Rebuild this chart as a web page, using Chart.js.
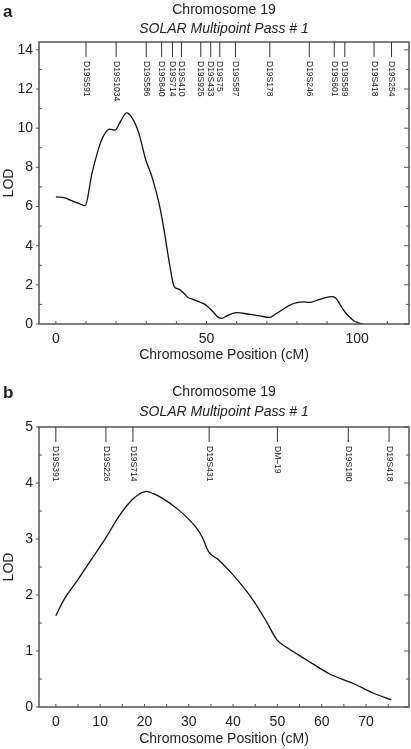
<!DOCTYPE html>
<html>
<head>
<meta charset="utf-8">
<script src="https://cdn.jsdelivr.net/npm/chart.js@4.4.0/dist/chart.umd.min.js"></script>
<style>
  body { margin: 0; background: #fff; }
  .box { position: relative; width: 411px; }
  #boxA { height: 375px; }
  #boxB { height: 374px; }
</style>
</head>
<body>
<div class="box" id="boxA"><canvas id="chartA"></canvas></div>
<div class="box" id="boxB"><canvas id="chartB"></canvas></div>
<script>
// panel a - whole chromosome
const posA = [0, 3, 5, 7.5, 9.7, 12, 14.8, 16.5, 17.8, 19.6, 21.5, 23.5, 25.3, 27.5, 29.8, 32, 34.2,
  35.8, 37.8, 39.2, 40.8, 42.3, 43.9, 45.6, 47.8, 49.5, 51, 52.3, 53.8, 55, 57, 60, 64.4, 67.7,
  71, 73, 75.4, 77.5, 79.9, 82, 84.3, 86.5, 88.7, 91.8, 93, 94.5, 96, 97.5, 99, 100.9, 102];
const lodA = [6.49, 6.44, 6.31, 6.17, 6.04, 7.7, 9.25, 9.78, 9.95, 9.9, 10.36, 10.78, 10.53, 9.76, 8.4, 7.46, 6.18,
  4.9, 3.0, 1.93, 1.78, 1.6, 1.35, 1.25, 1.12, 1.0, 0.8, 0.6, 0.35, 0.29, 0.44, 0.58, 0.49, 0.41,
  0.34, 0.52, 0.75, 0.95, 1.09, 1.13, 1.1, 1.2, 1.31, 1.4, 1.3, 0.95, 0.6, 0.35, 0.15, 0.03, 0];
const markerNamesA = ['D19S591', 'D19S1034', 'D19S586', 'D19S840', 'D19S714', 'D19S410', 'D19S925', 'D19S433',
  'D19S75', 'D19S587', 'D19S178', 'D19S246', 'D19S601', 'D19S589', 'D19S418', 'D19S254'];
const markerPosA = [10, 20, 30, 35.1, 38.7, 41.7, 48.1, 51.4, 54.4, 59.6, 71, 84.1, 92.4, 95.9, 105.6, 111.4];
const xTicksA = [0, 50, 100];
const yTicksA = [0, 2, 4, 6, 8, 10, 12, 14];

// panel b - fine map
const posB = [0, 2, 4.5, 6.7, 9, 11.2, 14.2, 17.2, 18.8, 20.5, 22, 24, 27.7, 31.5, 33, 34.5, 36.7, 40, 44.5,
  47.5, 49.9, 52, 56.6, 61.8, 67.1, 71.6, 75.7];
const lodB = [1.63, 1.94, 2.22, 2.48, 2.75, 3.01, 3.4, 3.7, 3.8, 3.85, 3.81, 3.73, 3.52, 3.22, 3.04, 2.77, 2.63, 2.36, 1.91,
  1.53, 1.2, 1.07, 0.84, 0.59, 0.42, 0.25, 0.13];
const markerNamesB = ['D19S391', 'D19S226', 'D19S714', 'D19S431', 'DM\u201319', 'D19S180', 'D19S418'];
const markerPosB = [0, 11.3, 17.4, 34.6, 50, 66, 75.2];
const xTicksB = [0, 10, 20, 30, 40, 50, 60, 70];
const yTicksB = [0, 1, 2, 3, 4, 5];

Chart.defaults.font.family = '"Liberation Sans", Arial, sans-serif';
Chart.defaults.color = '#222';

const frameColor = '#555';

// box, small ticks, marker ladder and panel letter
const plotDecor = {
    id: 'plotDecor',
    afterDatasetsDraw(chart, args, opts) {
        const { ctx, chartArea: a, scales: { x, y } } = chart;
        const seg = (x1, y1, x2, y2) => {
            ctx.beginPath();
            ctx.moveTo(x1, y1);
            ctx.lineTo(x2, y2);
            ctx.stroke();
        };
        ctx.save();
        ctx.strokeStyle = frameColor;
        ctx.lineWidth = 1.5;
        ctx.strokeRect(a.left, a.top, a.right - a.left, a.bottom - a.top);

        ctx.lineWidth = 1;
        for (let i = 0; i * opts.xMinor <= x.max; i++) {
            const px = x.getPixelForValue(i * opts.xMinor);
            seg(px, a.bottom, px, a.bottom - 3);
        }
        for (let i = 0; i * opts.yMinor <= y.max + 1e-9; i++) {
            const v = i * opts.yMinor;
            const py = y.getPixelForValue(v);
            if (opts.yMajor.includes(Math.round(v * 100) / 100)) {
                seg(a.left - 3, py, a.left, py);
                seg(a.right, py, a.right - 5, py);
            } else {
                seg(a.left, py, a.left + 3, py);
                seg(a.right, py, a.right - 3, py);
            }
        }

        // marker ladder along the top
        ctx.strokeStyle = '#333';
        ctx.fillStyle = '#222';
        ctx.font = '8.5px "Liberation Sans", Arial, sans-serif';
        ctx.textAlign = 'left';
        ctx.textBaseline = 'middle';
        opts.markerPos.forEach((m, i) => {
            const px = x.getPixelForValue(m);
            seg(px, a.top, px, a.top + 15);
            ctx.save();
            ctx.translate(px, a.top + 19);
            ctx.rotate(Math.PI / 2);
            ctx.fillText(opts.markerNames[i], 0, 0);
            ctx.restore();
        });

        ctx.font = 'bold 17px "Liberation Sans", Arial, sans-serif';
        ctx.fillText(opts.letter, 3, opts.letterY);
        ctx.restore();
    }
};

function buildChart(id, cfg) {
    const ctx = document.getElementById(id).getContext('2d');
    return new Chart(ctx, {
        type: 'line',
        data: {
            datasets: [{
                data: cfg.pos.map((p, i) => ({ x: p, y: cfg.lod[i] })),
                borderColor: '#111',
                borderWidth: 1.3,
                pointRadius: 0,
                cubicInterpolationMode: 'monotone',
                fill: false
            }]
        },
        options: {
            responsive: true,
            maintainAspectRatio: false,
            animation: false,
            layout: { padding: { left: 0, right: 2, top: 0, bottom: 0 } },
            plugins: {
                legend: { display: false },
                tooltip: { enabled: false },
                title: {
                    display: true,
                    text: 'Chromosome 19',
                    fullSize: false,
                    font: { size: 14, weight: 'normal' },
                    color: '#222',
                    padding: cfg.titlePad
                },
                subtitle: {
                    display: true,
                    text: 'SOLAR Multipoint Pass # 1',
                    fullSize: false,
                    font: { size: 14, style: 'italic' },
                    color: '#222',
                    padding: cfg.subPad
                },
                plotDecor: {
                    xMinor: cfg.xMinor,
                    yMinor: cfg.yMinor,
                    yMajor: cfg.yTicks,
                    markerPos: cfg.markerPos,
                    markerNames: cfg.markerNames,
                    letter: cfg.letter,
                    letterY: cfg.letterY
                }
            },
            scales: {
                x: {
                    type: 'linear',
                    min: cfg.xMin,
                    max: cfg.xMax,
                    grid: { display: false, drawTicks: false },
                    border: { display: false },
                    afterBuildTicks: s => { s.ticks = cfg.xTicks.map(v => ({ value: v })); },
                    afterFit: s => { s.height = cfg.xAxisH; },
                    ticks: { font: { size: 14 }, padding: 7, maxRotation: 0, autoSkip: false },
                    title: {
                        display: true,
                        text: 'Chromosome Position (cM)',
                        font: { size: 14 },
                        padding: { top: 0, bottom: cfg.xTitlePad }
                    }
                },
                y: {
                    min: 0,
                    max: cfg.yMax,
                    grid: { display: false, drawTicks: false },
                    border: { display: false },
                    afterBuildTicks: s => { s.ticks = cfg.yTicks.map(v => ({ value: v })); },
                    afterFit: s => { s.width = 39; },
                    ticks: { font: { size: 14 }, padding: 6 },
                    title: {
                        display: true,
                        text: 'LOD',
                        font: { size: 14 },
                        padding: { top: 1, bottom: 0 }
                    }
                }
            }
        },
        plugins: [plotDecor]
    });
}

buildChart('chartA', {
    pos: posA, lod: lodA, markerPos: markerPosA, markerNames: markerNamesA,
    xTicks: xTicksA, yTicks: yTicksA, xMin: -5.6, xMax: 117.2, yMax: 14.4,
    xMinor: 10, yMinor: 1, xAxisH: 51, xTitlePad: 11.6, letter: 'a', letterY: 12,
    titlePad: { top: 1.6, bottom: 2.2 }, subPad: { top: 0, bottom: 4.6 }
});

buildChart('chartB', {
    pos: posB, lod: lodB, markerPos: markerPosB, markerNames: markerNamesB,
    xTicks: xTicksB, yTicks: yTicksB, xMin: -3.8, xMax: 79.7, yMax: 5,
    xMinor: 5, yMinor: 0.5, xAxisH: 42, xTitlePad: 1.6, letter: 'b', letterY: 18,
    titlePad: { top: 8.6, bottom: 3.2 }, subPad: { top: 0, bottom: 6.6 }
});
</script>
</body>
</html>
